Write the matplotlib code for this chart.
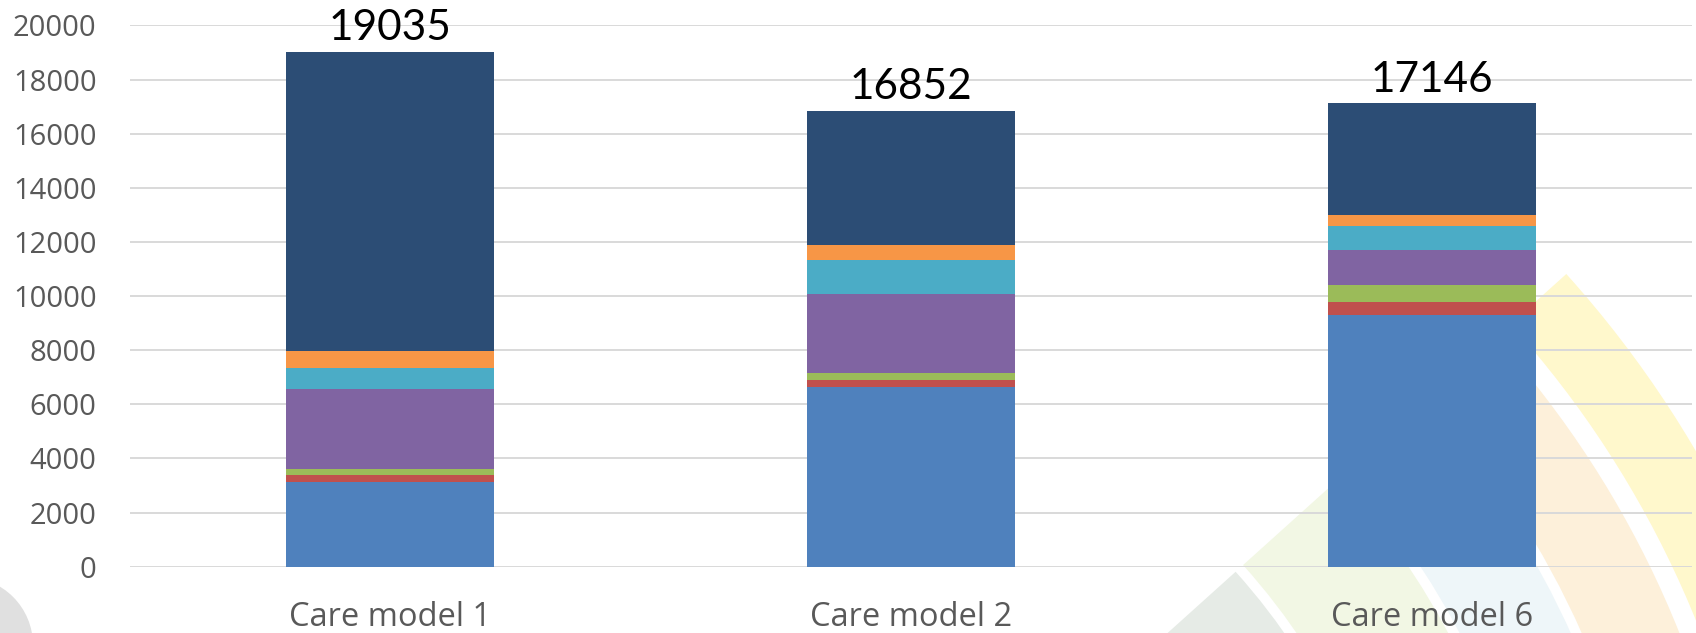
import numpy as np
import matplotlib
matplotlib.use("Agg")
import matplotlib.pyplot as plt
from matplotlib.patches import Wedge, Circle

# Datos
categories = ["Care model 1", "Care model 2", "Care model 6"]
blue = [3117, 6638, 9287]
red = [270, 259, 503]
green = [211, 258, 616]
purple = [2955, 2919, 1305]
teal = [787, 1267, 864]
orange = [639, 554, 429]
navy = [11056, 4957, 4142]
totals = [19035, 16852, 17146]

series = [blue, red, green, purple, teal, orange, navy]
colors = ['#4F81BD', '#C0504D', '#9BBB59', '#8064A2', '#4BACC6', '#F79646', '#2C4D75']

W, H = 1696, 633
fig = plt.figure(figsize=(W / 100, H / 100), dpi=100)

# marca de agua de fondo (en pixeles)
bg = fig.add_axes([0, 0, 1, 1], zorder=0)
bg.set_xlim(0, W)
bg.set_ylim(H, 0)
bg.axis('off')
cx, cy = 760, 1000
bands = [(1010, 1085, '#FFF8CC'), (900, 990, '#FDF0DA'),
         (790, 890, '#EEF6F9'), (650, 780, '#F2F7E4'), (540, 640, '#E6EBE6')]
for r0, r1, c in bands:
    bg.add_patch(Wedge((cx, cy), r1, 180 + 138, 180 + 210, width=r1 - r0,
                       facecolor=c, edgecolor='none'))
bg.add_patch(Circle((-35, 645), 68, facecolor='#E0E0E0', edgecolor='none'))

ax = fig.add_axes([130 / W, 1 - 566.7 / H, (1692 - 130) / W, (566.7 - 25.4) / H], zorder=1)
ax.patch.set_alpha(0)

x = np.arange(len(categories))
bottom = np.zeros(len(categories))
for vals, c in zip(series, colors):
    ax.bar(x, vals, width=0.4, bottom=bottom, color=c, edgecolor='none', zorder=3)
    bottom += np.array(vals)

for xi, top, t in zip(x, bottom, totals):
    ax.annotate(str(t), (xi, top), xytext=(0, 8), textcoords='offset points',
                ha='center', va='baseline', fontsize=30.5, family='Lato',
                color='black', annotation_clip=False)

ax.set_xlim(-0.5, 2.5)
ax.set_ylim(0, 20000)
ax.set_yticks(np.arange(0, 20001, 2000))
ax.set_xticks(x)
ax.set_xticklabels(categories)
ax.grid(axis='y', color='#D9D9D9', linewidth=1.4, zorder=0)
ax.set_axisbelow(True)
for s in ax.spines.values():
    s.set_visible(False)
ax.tick_params(axis='y', length=0, pad=24, labelsize=21, labelcolor='#595959')
ax.tick_params(axis='x', length=0, pad=25, labelsize=23.5, labelcolor='#595959')
for lab in ax.get_xticklabels() + ax.get_yticklabels():
    lab.set_family('Open Sans')

fig.savefig("out.png", dpi=100)
